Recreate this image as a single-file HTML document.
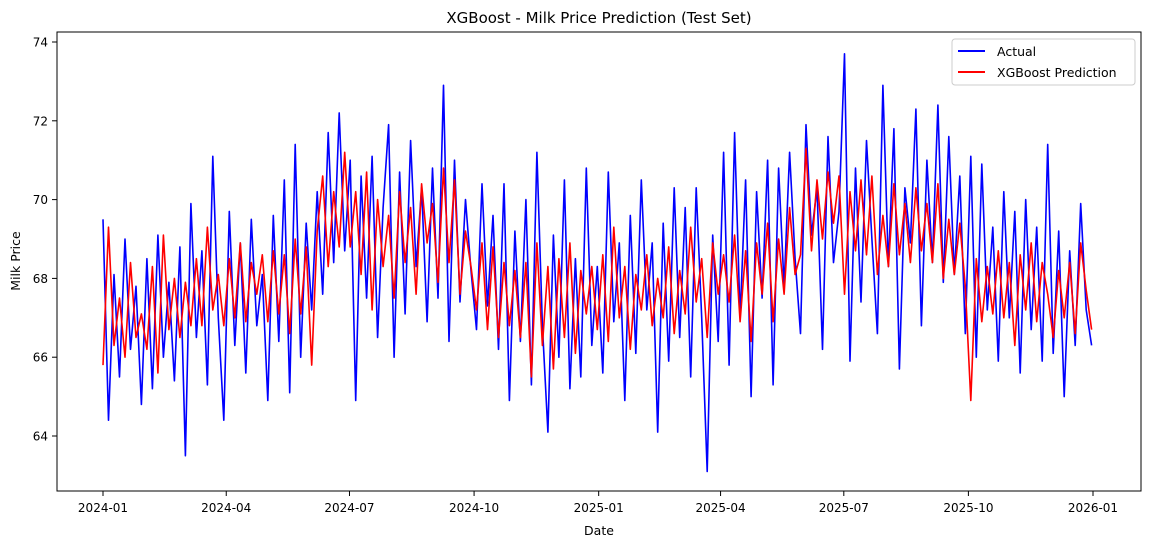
<!DOCTYPE html>
<html><head><meta charset="utf-8"><style>
html,body{margin:0;padding:0;background:#fff;}
svg{display:block;font-family:"DejaVu Sans","Liberation Sans",sans-serif;}
</style></head><body>
<svg id="chart" width="1152" height="547" viewBox="0 0 1152 547" xmlns="http://www.w3.org/2000/svg">
<text x="599" y="23" font-size="15" text-anchor="middle">XGBoost - Milk Price Prediction (Test Set)</text>
<g id="grid"></g>
<g id="series"></g>
<rect x="57" y="32" width="1084" height="459" fill="none" stroke="#000" stroke-width="1"/>
<text x="599" y="535" font-size="12.5" text-anchor="middle">Date</text>
<text transform="translate(20,261) rotate(-90)" font-size="12.5" text-anchor="middle">Milk Price</text>
<g>
<rect x="952" y="39" width="183" height="46" rx="3" fill="#fff" fill-opacity="0.8" stroke="#ccc"/>
<line x1="958" y1="51" x2="985" y2="51" stroke="#0000ff" stroke-width="2"/>
<text x="997" y="56" font-size="12.5">Actual</text>
<line x1="958" y1="72" x2="985" y2="72" stroke="#ff0000" stroke-width="2"/>
<text x="997" y="77" font-size="12.5">XGBoost Prediction</text>
</g>
</svg>
<script>
const xTickLabels=["2024-01","2024-04","2024-07","2024-10","2025-01","2025-04","2025-07","2025-10","2026-01"];
const xTickDays=[0,91,182,274,366,456,547,639,731];
const yTicks=[64,66,68,70,72,74];
const actual=[69.5,64.4,68.1,65.5,69.0,66.2,67.8,64.8,68.5,65.2,69.1,66.0,67.9,65.4,68.8,63.5,69.9,66.5,68.7,65.3,71.1,67.0,64.4,69.7,66.3,68.9,65.6,69.5,66.8,68.1,64.9,69.6,66.4,70.5,65.1,71.4,66.0,69.4,67.2,70.2,67.6,71.7,68.4,72.2,68.7,71.0,64.9,70.6,67.5,71.1,66.5,69.8,71.9,66.0,70.7,67.1,71.5,68.3,70.3,66.9,70.8,67.5,72.9,66.4,71.0,67.4,70.0,68.2,66.7,70.4,67.3,69.6,66.2,70.4,64.9,69.2,66.4,70.0,65.3,71.2,66.8,64.1,69.1,66.0,70.5,65.2,68.5,65.5,70.8,66.3,68.3,65.6,70.7,66.9,68.9,64.9,69.6,66.1,70.5,67.2,68.9,64.1,69.4,65.9,70.3,66.5,69.8,65.5,70.3,67.0,63.1,69.1,66.4,71.2,65.8,71.7,67.0,70.5,65.0,70.2,67.5,71.0,65.3,70.8,67.8,71.2,68.5,66.6,71.9,69.1,70.3,66.2,71.6,68.4,69.7,73.7,65.9,70.8,67.4,71.5,69.0,66.6,72.9,68.3,71.8,65.7,70.3,68.9,72.3,66.8,71.0,68.4,72.4,67.9,71.6,68.1,70.6,66.6,71.1,66.0,70.9,67.2,69.3,65.9,70.2,67.0,69.7,65.6,70.0,66.7,69.3,65.9,71.4,66.1,69.2,65.0,68.7,66.3,69.9,67.2,66.3];
const predicted=[65.8,69.3,66.3,67.5,66.0,68.4,66.5,67.1,66.2,68.3,65.6,69.1,66.7,68.0,66.5,67.9,66.8,68.5,66.8,69.3,67.2,68.1,66.8,68.5,67.0,68.9,66.9,68.4,67.6,68.6,66.9,68.7,67.1,68.6,66.6,69.0,67.1,68.8,65.8,69.2,70.6,68.3,70.2,68.8,71.2,68.8,70.2,68.1,70.7,67.2,70.0,68.3,69.6,67.5,70.2,68.4,69.8,67.6,70.4,68.9,69.9,67.9,70.8,68.4,70.5,67.6,69.2,68.3,67.2,68.9,66.7,68.8,66.5,68.4,66.8,68.2,66.5,68.4,65.5,68.9,66.3,68.3,65.7,68.5,66.5,68.9,66.1,68.2,67.1,68.3,66.7,68.6,66.4,69.3,67.0,68.3,66.2,68.1,67.2,68.6,66.8,68.0,67.0,68.8,66.6,68.2,67.1,69.3,67.4,68.5,66.5,68.9,67.6,68.6,67.4,69.1,66.9,68.7,66.4,68.9,67.6,69.4,66.9,69.0,67.6,69.8,68.1,68.6,71.3,68.7,70.5,69.0,70.7,69.4,70.6,67.6,70.2,68.7,70.5,68.6,70.6,68.1,69.6,68.3,70.4,68.6,69.9,68.4,70.3,68.7,69.9,68.4,70.4,68.0,69.5,68.1,69.4,67.8,64.9,68.5,66.9,68.3,67.1,68.7,67.0,68.4,66.3,68.6,67.2,68.9,66.9,68.4,67.6,66.5,68.2,67.0,68.4,66.6,68.9,67.7,66.7];

const NS="http://www.w3.org/2000/svg";
const X0=103,X1=1093,TOTAL=731;
function xScale(day){return X0+day*(X1-X0)/TOTAL;}
function yScale(v){return 436-(v-64)*(436-42)/10;}
const grid=document.getElementById('grid');
const series=document.getElementById('series');
function mk(tag,attrs,parent){const e=document.createElementNS(NS,tag);for(const k in attrs)e.setAttribute(k,attrs[k]);parent.appendChild(e);return e;}
xTickDays.forEach((d,i)=>{
  const x=xScale(d);
  const t=mk('line',{x1:x,y1:491,x2:x,y2:496,stroke:'#000'},grid);
  
  
  const l=mk('text',{x:x,y:512,'font-size':12,'text-anchor':'middle'},grid);
  l.textContent=xTickLabels[i];
  
  
});
yTicks.forEach(v=>{
  const y=yScale(v);
  const t=mk('line',{x1:52,y1:y,x2:57,y2:y,stroke:'#000'},grid);
  
  
  const l=mk('text',{x:48,y:y+4.5,'font-size':12,'text-anchor':'end'},grid);
  l.textContent=v;
  
  
});
function path(arr){const n=arr.length;return arr.map((v,i)=>(i?'L':'M')+xScale(i*730/(n-1)).toFixed(1)+','+yScale(v).toFixed(1)).join(' ');}
const pa=mk('path',{d:path(actual),fill:'none',stroke:'#0000ff','stroke-width':1.6,'stroke-linejoin':'round'},series);


const pp=mk('path',{d:path(predicted),fill:'none',stroke:'#ff0000','stroke-width':1.6,'stroke-linejoin':'round'},series);


</script>
</body></html>
